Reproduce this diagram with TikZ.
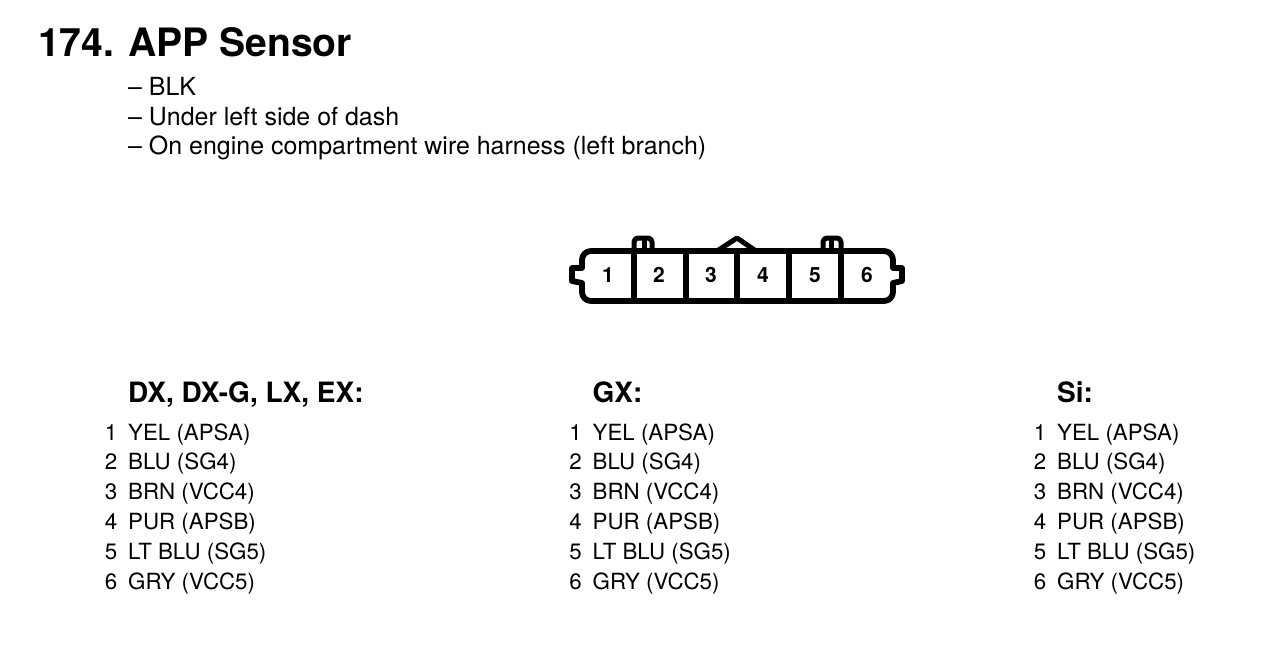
\documentclass[tikz,border=0pt]{standalone}
\usepackage{fontspec}
\setmainfont{TeX Gyre Heros}
\usetikzlibrary{positioning}

\tikzset{
  titletext/.style={anchor=base west, inner sep=0pt, font=\fontsize{39.1}{39.1}\selectfont\bfseries},
  notetext/.style={anchor=base west, inner sep=0pt, font=\fontsize{24.95}{24.95}\selectfont},
  headtext/.style={anchor=base west, inner sep=0pt, font=\fontsize{28}{28}\selectfont\bfseries},
  wiretext/.style={anchor=base west, inner sep=0pt, font=\fontsize{22.3}{22.3}\selectfont},
  pintext/.style={anchor=base east, inner sep=0pt, font=\fontsize{22.3}{22.3}\selectfont},
  cavitytext/.style={anchor=base, inner sep=0pt, font=\fontsize{21}{21}\selectfont\bfseries},
  housing/.style={draw, line width=5.8pt, line join=round},
  latch/.style={draw, line width=5pt, line join=round, rounded corners=4pt}
}

\begin{document}
\begin{tikzpicture}[x=1pt,y=-1pt]
  \useasboundingbox (0,0) rectangle (1264,658);

  % heading
  \node (title) [titletext] at (38,56.5) {174.};
  \node (name) [titletext] at (128,56.5) {APP Sensor};
  \node (note1) [notetext] at (128,96) {-- BLK};
  \node (note2) [notetext] at (128,125.5) {-- Under left side of dash};
  \node (note3) [notetext] at (128,155) {-- On engine compartment wire harness (left branch)};

  % connector body
  \draw[housing] (591,251) -- (884,251) .. controls (889,251) and (893,255) .. (893,260) -- (893,268)
    -- (902,268) -- (902,281) -- (893,283) -- (893,292) .. controls (893,297) and (889,301) .. (884,301)
    -- (591,301) .. controls (586,301) and (582,297) .. (582,292) -- (582,283) -- (572,281) -- (572,268)
    -- (582,268) -- (582,260) .. controls (582,255) and (586,251) .. (591,251) -- cycle;
  \foreach \x in {634,686,737,789,841} {
    \draw[housing] (\x,251) -- (\x,301);
  }

  % latches on top
  \draw[latch] (634,251) -- (634,238) -- (652,238) -- (652,251);
  \draw[latch] (644,251) -- (644,239);
  \draw[latch] (823,251) -- (823,238) -- (841,238) -- (841,251);
  \draw[latch] (831,251) -- (831,239);
  \draw[latch, rounded corners=0pt] (717,251) -- (737,238) -- (756,251);

  % cavity numbers
  \foreach \n/\x in {1/608,2/659,3/711,4/763,5/815,6/867} {
    \node (cavity\n) [cavitytext] at (\x,282) {\n};
  }

  % wire lists
  \foreach \col/\x/\head in {a/128/{DX, DX-G, LX, EX:},b/592.5/{GX:},c/1057/{Si:}} {
    \node (head\col) [headtext] at (\x,402.5) {\head};
    \foreach \n/\y/\wire in {1/440/YEL (APSA),2/469.8/BLU (SG4),3/499.6/BRN (VCC4),
        4/529.4/PUR (APSB),5/559.2/LT BLU (SG5),6/589/GRY (VCC5)} {
      \node (wire\col\n) [wiretext] at (\x,\y) {\wire};
      \node (pin\col\n) [pintext] at (\x-10.5,\y) {\n};
    }
  }
\end{tikzpicture}
\end{document}
